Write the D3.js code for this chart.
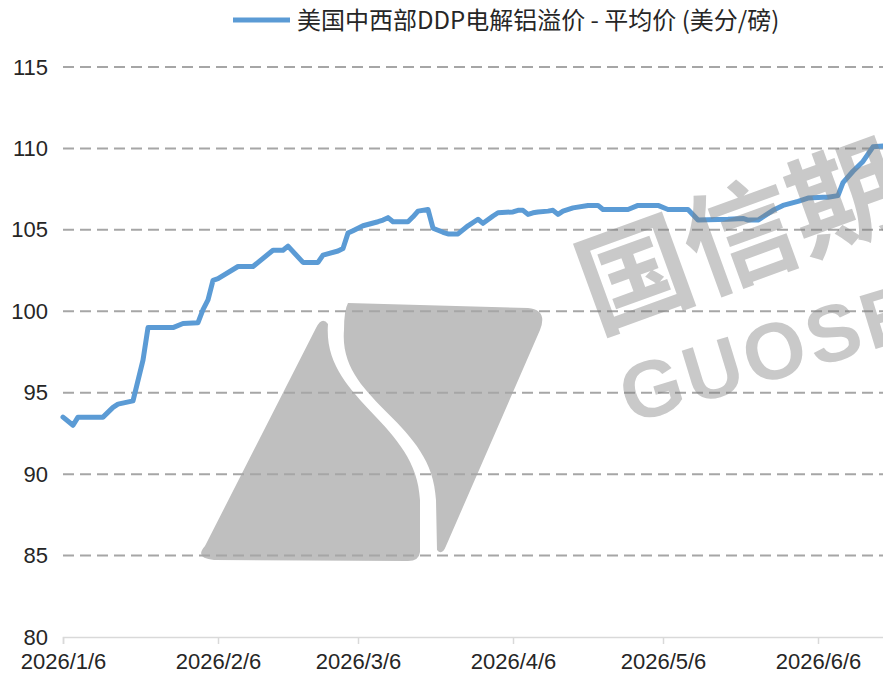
<!DOCTYPE html>
<html>
<head>
<meta charset="utf-8">
<script src="https://cdn.jsdelivr.net/npm/d3@7"></script>
<style>
  body { margin: 0; background: #fff; }
  svg { display: block; }
  .tick text { font-family: "Liberation Sans", Arial, sans-serif; }
</style>
</head>
<body>
<svg id="chart" width="883" height="680"></svg>
<script>
// series: 美国中西部DDP电解铝溢价 - 平均价 (美分/磅)
var seriesName = "美国中西部DDP电解铝溢价 - 平均价 (美分/磅)";
var dates = [
  "2026-01-06","2026-01-08","2026-01-09","2026-01-14","2026-01-16","2026-01-17","2026-01-20",
  "2026-01-22","2026-01-23","2026-01-28","2026-01-30","2026-02-02","2026-02-03","2026-02-04",
  "2026-02-05","2026-02-06","2026-02-10","2026-02-13","2026-02-17","2026-02-19","2026-02-20",
  "2026-02-23","2026-02-26","2026-02-27","2026-03-02","2026-03-03","2026-03-04","2026-03-05",
  "2026-03-07","2026-03-10","2026-03-11","2026-03-12","2026-03-13","2026-03-16","2026-03-17",
  "2026-03-18","2026-03-20","2026-03-21","2026-03-23","2026-03-24","2026-03-26","2026-03-28",
  "2026-03-30","2026-03-31","2026-04-02","2026-04-03","2026-04-06","2026-04-07","2026-04-08",
  "2026-04-09","2026-04-10","2026-04-11","2026-04-13","2026-04-14","2026-04-15","2026-04-16",
  "2026-04-18","2026-04-21","2026-04-23","2026-04-24","2026-04-29","2026-05-01","2026-05-05",
  "2026-05-07","2026-05-11","2026-05-13","2026-05-19","2026-05-22","2026-05-23","2026-05-25",
  "2026-05-28","2026-05-30","2026-06-02","2026-06-04","2026-06-07","2026-06-08","2026-06-10",
  "2026-06-11","2026-06-13","2026-06-15","2026-06-17","2026-06-19"
];
var values = [
  93.5, 93.0, 93.5, 93.5, 94.1, 94.3, 94.5,
  97.0, 99.0, 99.0, 99.25, 99.3, 100.1, 100.7,
  101.9, 102.0, 102.75, 102.75, 103.75, 103.75, 104.0,
  103.0, 103.0, 103.45, 103.7, 103.85, 104.8, 104.95,
  105.25, 105.5, 105.6, 105.75, 105.5, 105.5, 105.8,
  106.15, 106.25, 105.1, 104.85, 104.75, 104.75, 105.25,
  105.65, 105.4, 105.85, 106.05, 106.1, 106.2, 106.2,
  105.95, 106.05, 106.1, 106.15, 106.2, 105.95, 106.15,
  106.35, 106.5, 106.5, 106.25, 106.25, 106.5, 106.5,
  106.25, 106.25, 105.6, 105.65, 105.7, 105.6, 105.6,
  106.2, 106.5, 106.75, 106.95, 107.0, 107.0, 107.1,
  107.9, 108.6, 109.2, 110.1, 110.15
];
var xTickDates = ["2026-01-06","2026-02-06","2026-03-06","2026-04-06","2026-05-06","2026-06-06"];
var yTicks = [80, 85, 90, 95, 100, 105, 110, 115];

var parse = d3.utcParse("%Y-%m-%d");
var data = [];
for (var i = 0; i < dates.length; i++) {
  data.push({date: parse(dates[i]), value: values[i]});
}

var svg = d3.select("#chart");
var lineColor = "#5B9BD5";

var x = d3.scaleUtc()
  .domain([parse("2026-01-06"), parse("2026-06-22")])
  .range([63, 898]);
var y = d3.scaleLinear()
  .domain([80, 115])
  .range([637, 67]);

// S logo watermark (under the line)
var wm = svg.append("g").attr("class", "watermark").attr("fill", "#bfbfbf");
wm.append("path")
  .attr("d", "M205,546 L316,328 Q322,316 328,324 C322,400 417,422 420,500 L420,552 Q419,561 408,561 L214,560 Q194,558 205,546 Z");
wm.append("path")
  .attr("d", "M348,303 L528,308 Q548,310 540,330 L446,546 Q442,556 437,550 L436,500 C433,420 338,402 344,330 Q344,310 348,303 Z");

// gridlines
svg.append("g")
  .selectAll("line")
  .data(yTicks.filter(function(d) { return d > 80; }))
  .enter().append("line")
  .attr("x1", 63)
  .attr("x2", 883)
  .attr("y1", function(d) { return y(d); })
  .attr("y2", function(d) { return y(d); })
  .attr("stroke", "#a6a6a6")
  .attr("stroke-width", 2)
  .attr("stroke-dasharray", "11,6");

// y labels
var yAxis = svg.append("g")
  .attr("transform", "translate(48,0)")
  .call(d3.axisLeft(y).tickValues(yTicks).tickSize(0).tickPadding(0));
yAxis.select(".domain").remove();
yAxis.selectAll("text")
  .attr("font-size", 22)
  .attr("fill", "#262626");

// x axis
var xAxis = svg.append("g")
  .attr("transform", "translate(0,637)")
  .call(d3.axisBottom(x)
    .tickValues(xTickDates.map(parse))
    .tickFormat(d3.utcFormat("%Y/%-m/%-d"))
    .tickSize(7)
    .tickPadding(9));
xAxis.select(".domain")
  .attr("stroke", "#d9d9d9")
  .attr("stroke-width", 1.5);
xAxis.selectAll(".tick line")
  .attr("stroke", "#d9d9d9")
  .attr("stroke-width", 1.5);
xAxis.selectAll("text")
  .attr("font-size", 22)
  .attr("fill", "#262626");

// the series line
var line = d3.line()
  .x(function(d) { return x(d.date); })
  .y(function(d) { return y(d.value); });

svg.append("path")
  .datum(data)
  .attr("fill", "none")
  .attr("stroke", lineColor)
  .attr("stroke-width", 5)
  .attr("stroke-linejoin", "round")
  .attr("stroke-linecap", "round")
  .attr("d", line);

// text watermark (over the line), cut by the right edge like the reference
var wmText = svg.append("g").attr("fill", "#7f7f7f").attr("opacity", 0.42);
wmText.append("text")
  .attr("transform", "translate(596,332) rotate(-20)")
  .attr("font-family", "'Noto Sans CJK SC', sans-serif")
  .attr("font-weight", "bold")
  .attr("font-size", 112)
  .text("国信期货");
wmText.append("text")
  .attr("transform", "translate(630,424) rotate(-17)")
  .attr("font-family", "'Liberation Sans', Arial, sans-serif")
  .attr("font-weight", "bold")
  .attr("font-size", 80)
  .attr("letter-spacing", 4)
  .text("GUOSEN");

// legend
var legend = svg.append("g").attr("transform", "translate(233,20)");
legend.append("line")
  .attr("x1", 0).attr("x2", 57)
  .attr("y1", 0).attr("y2", 0)
  .attr("stroke", lineColor)
  .attr("stroke-width", 5);
legend.append("text")
  .attr("x", 64)
  .attr("y", 9)
  .attr("font-family", "'Noto Sans CJK SC', sans-serif")
  .attr("font-size", 24)
  .attr("fill", "#262626")
  .text(seriesName);
</script>
</body>
</html>
